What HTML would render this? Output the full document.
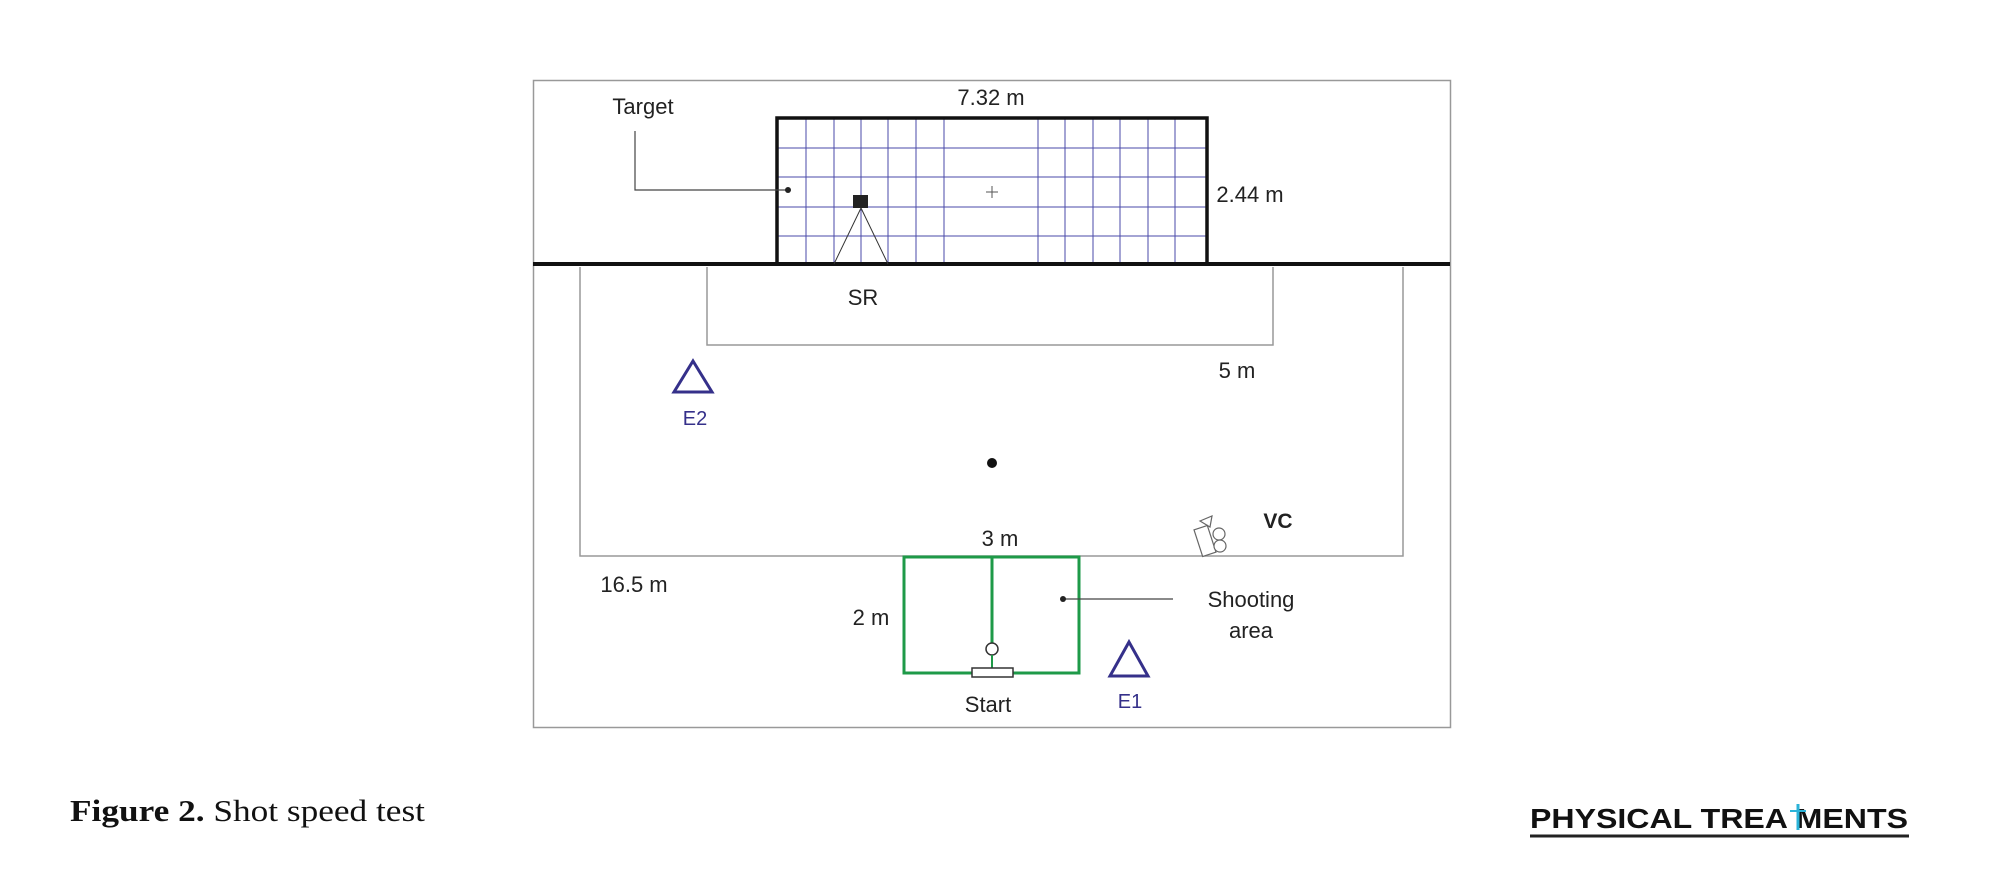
<!DOCTYPE html>
<html><head><meta charset="utf-8"><style>
html,body{margin:0;padding:0;background:#fff;}
svg{display:block;}
</style></head><body>
<svg width="2000" height="878" viewBox="0 0 2000 878" xmlns="http://www.w3.org/2000/svg" font-family="Liberation Sans, sans-serif">
<rect x="533.5" y="80.5" width="917" height="647" fill="none" stroke="#999" stroke-width="1.5"/>
<g stroke="#4a4aa8" stroke-width="1">
<line x1="806" y1="117" x2="806" y2="264"/><line x1="834" y1="117" x2="834" y2="264"/><line x1="861" y1="117" x2="861" y2="264"/><line x1="888" y1="117" x2="888" y2="264"/><line x1="916" y1="117" x2="916" y2="264"/><line x1="944" y1="117" x2="944" y2="264"/>
<line x1="1038" y1="117" x2="1038" y2="264"/><line x1="1065" y1="117" x2="1065" y2="264"/><line x1="1093" y1="117" x2="1093" y2="264"/><line x1="1120" y1="117" x2="1120" y2="264"/><line x1="1148" y1="117" x2="1148" y2="264"/><line x1="1175" y1="117" x2="1175" y2="264"/>
<line x1="777" y1="148" x2="1207" y2="148"/><line x1="777" y1="177" x2="1207" y2="177"/><line x1="777" y1="207" x2="1207" y2="207"/><line x1="777" y1="236" x2="1207" y2="236"/>
</g>
<path d="M777 264 V118 H1207 V264" fill="none" stroke="#111" stroke-width="3.5"/>
<line x1="533" y1="264" x2="1450" y2="264" stroke="#111" stroke-width="4"/>
<line x1="986" y1="192" x2="998" y2="192" stroke="#555" stroke-width="1"/><line x1="992" y1="186" x2="992" y2="198" stroke="#555" stroke-width="1"/>
<rect x="853" y="195" width="15" height="13" fill="#222"/>
<path d="M861 208 L834 264 M861 208 L888 264" stroke="#333" stroke-width="1" fill="none"/>
<path d="M635 131 V190 H787" fill="none" stroke="#444" stroke-width="1.2"/>
<circle cx="788" cy="190" r="3" fill="#222"/>
<path d="M707 267 V345 H1273 V267" fill="none" stroke="#999" stroke-width="1.5"/>
<path d="M580 267 V556 H1403 V267" fill="none" stroke="#999" stroke-width="1.5"/>
<path d="M693 361 L712 392 L674 392 Z" fill="none" stroke="#35308a" stroke-width="3"/>
<path d="M1129 642 L1148 676 L1110 676 Z" fill="none" stroke="#35308a" stroke-width="3"/>
<circle cx="992" cy="463" r="5" fill="#111"/>
<g stroke="#666" stroke-width="1.2" fill="#fff">
<path d="M1200 521 L1212 516 L1210 527 Z"/>
<rect x="1198" y="527" width="14" height="28" transform="rotate(-18 1205 541)"/>
<circle cx="1219" cy="534" r="6"/><circle cx="1220" cy="546" r="6"/>
</g>
<g stroke="#1e9a48" stroke-width="3" fill="none">
<rect x="904" y="557" width="175" height="116"/>
<line x1="992" y1="557" x2="992" y2="643"/>
</g>
<circle cx="992" cy="649" r="6" fill="#fff" stroke="#333" stroke-width="1.5"/>
<line x1="992" y1="655" x2="992" y2="668" stroke="#1e9a48" stroke-width="2"/>
<rect x="972" y="668" width="41" height="9" fill="#fff" stroke="#333" stroke-width="1.5"/>
<path d="M1063 599 H1173" stroke="#444" stroke-width="1.2"/><circle cx="1063" cy="599" r="3" fill="#222"/>
<g font-size="22" fill="#222" text-anchor="middle">
<text x="643" y="114">Target</text>
<text x="991" y="105">7.32 m</text>
<text x="1250" y="202">2.44 m</text>
<text x="863" y="305">SR</text>
<text x="1237" y="378">5 m</text>
<text x="1000" y="546">3 m</text>
<text x="1278" y="528" font-weight="bold" font-size="21">VC</text>
<text x="634" y="592">16.5 m</text>
<text x="871" y="625">2 m</text>
<text x="1251" y="607">Shooting</text>
<text x="1251" y="638">area</text>
<text x="988" y="712">Start</text>
<text x="695" y="425" fill="#35308a" font-size="20">E2</text>
<text x="1130" y="708" fill="#35308a" font-size="20">E1</text>
</g>
<text x="70" y="821" font-family="Liberation Serif, serif" font-size="31" fill="#111" textLength="355" lengthAdjust="spacingAndGlyphs"><tspan font-weight="bold">Figure 2.</tspan> Shot speed test</text>
<text x="1530" y="828" font-size="28" font-weight="bold" fill="#111" textLength="378" lengthAdjust="spacingAndGlyphs">PHYSICAL TREA MENTS</text>
<line x1="1798" y1="804" x2="1798" y2="830" stroke="#2bb3d8" stroke-width="3"/><line x1="1790" y1="811" x2="1806" y2="811" stroke="#2bb3d8" stroke-width="2"/>
<line x1="1530" y1="836" x2="1909" y2="836" stroke="#222" stroke-width="3"/>
</svg>
</body></html>
